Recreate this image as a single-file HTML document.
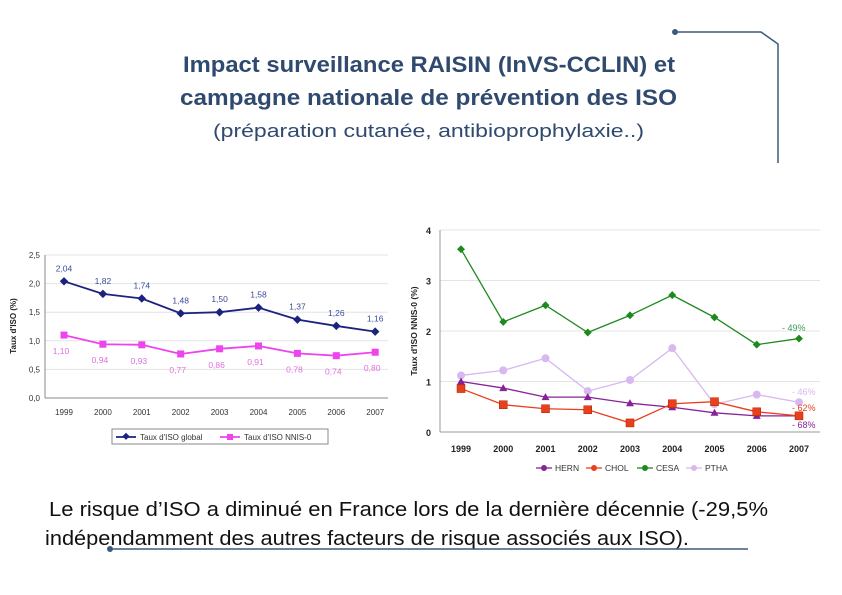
<!DOCTYPE html>
<html><head><meta charset="utf-8"><style>
html,body{margin:0;padding:0;background:#fff}
svg{display:block;font-family:"Liberation Sans",sans-serif}
</style></head><body>
<svg id="s" width="842" height="595" viewBox="0 0 842 595" xmlns="http://www.w3.org/2000/svg">
<g stroke="#3d5a7a" stroke-width="1.5" fill="none">
<path d="M675 32 H761 L778 44 V163"/></g>
<circle cx="675" cy="32" r="3" fill="#3d5a7a"/>
<text x="183" y="72" textLength="492" lengthAdjust="spacingAndGlyphs" font-size="22" font-weight="bold" fill="#2f4a6e">Impact surveillance RAISIN (InVS-CCLIN) et</text>
<text x="180" y="105" textLength="497" lengthAdjust="spacingAndGlyphs" font-size="22" font-weight="bold" fill="#2f4a6e">campagne nationale de prévention des ISO</text>
<text x="213" y="137" textLength="431" lengthAdjust="spacingAndGlyphs" font-size="18" fill="#2f4a6e">(préparation cutanée, antibioprophylaxie..)</text>
<g id="left"></g>
<g id="right"></g>
<text x="49" y="516" textLength="719" lengthAdjust="spacingAndGlyphs" font-size="20" fill="#111">Le risque d’ISO a diminué en France lors de la dernière décennie (-29,5%</text>
<text x="45" y="545" textLength="644" lengthAdjust="spacingAndGlyphs" font-size="20" fill="#111">indépendamment des autres facteurs de risque associés aux ISO).</text>
<line x1="110" y1="549" x2="748" y2="549" stroke="#3d5a7a" stroke-width="1.5"/>
<circle cx="110" cy="549" r="3" fill="#3d5a7a"/>
</svg>
<script>
const years=["1999","2000","2001","2002","2003","2004","2005","2006","2007"];
const globalRate=[2.04,1.82,1.74,1.48,1.50,1.58,1.37,1.26,1.16];
const nnisRate=[1.10,0.94,0.93,0.77,0.86,0.91,0.78,0.74,0.80];
const globalLabels=["2,04","1,82","1,74","1,48","1,50","1,58","1,37","1,26","1,16"];
const nnisLabels=["1,10","0,94","0,93","0,77","0,86","0,91","0,78","0,74","0,80"];
const leftTicks=[0,0.5,1,1.5,2,2.5];
const leftTickLabels=["0,0","0,5","1,0","1,5","2,0","2,5"];
const hern=[1.0,0.87,0.69,0.69,0.57,0.49,0.38,0.32,0.32];
const chol=[0.86,0.54,0.46,0.44,0.18,0.56,0.60,0.40,0.32];
const cesa=[3.62,2.18,2.51,1.97,2.31,2.71,2.27,1.73,1.85];
const ptha=[1.12,1.22,1.46,0.81,1.03,1.66,0.55,0.74,0.59];
const rightTicks=[0,1,2,3,4];
const NS="http://www.w3.org/2000/svg";
function mk(p,tag,a,txt){const e=document.createElementNS(NS,tag);for(const k in a)e.setAttribute(k,a[k]);if(txt!==undefined)e.textContent=txt;p.appendChild(e);return e;}
// LEFT
const L=document.getElementById('left');
const lx=i=>64+i*38.9, ly=v=>398-v*57.2;
leftTicks.forEach((t,i)=>{
 const g=mk(L,'line',{x1:45,x2:388,y1:ly(t),y2:ly(t),stroke:t===0?'#888':'#e4e4e4','stroke-width':1});
 
 
 const tx=mk(L,'text',{x:40,y:ly(t)+3,'font-size':8,'text-anchor':'end',fill:'#333'},leftTickLabels[i]);
 
 
});
mk(L,'line',{x1:45,x2:45,y1:255,y2:398,stroke:'#888'});
years.forEach((y,i)=>{
 const t=mk(L,'text',{x:lx(i),y:415,'font-size':8,'text-anchor':'middle',fill:'#333'},y);
 
 
});
const yt=mk(L,'text',{x:16,y:326,'font-size':8,'font-weight':'bold','text-anchor':'middle',transform:'rotate(-90 16 326)',fill:'#222'},"Taux d'ISO (%)");


function series(P,xs,ys,vals,color,w,name){
 const pl=mk(P,'polyline',{points:vals.map((v,i)=>xs(i)+','+ys(v)).join(' '),fill:'none',stroke:color,'stroke-width':w});
 
 
}
series(L,lx,ly,globalRate,'#1a237e',1.8,'global');
series(L,lx,ly,nnisRate,'#ee44ee',1.8,'nnis');
globalRate.forEach((v,i)=>{
 const m=mk(L,'rect',{x:lx(i)-3,y:ly(v)-3,width:6,height:6,fill:'#1a237e',transform:`rotate(45 ${lx(i)} ${ly(v)})`});
 
 
 const t=mk(L,'text',{x:lx(i),y:ly(v)-10,'font-size':8.5,'text-anchor':'middle',fill:'#3a4a9a'},globalLabels[i]);
 
 
});
nnisRate.forEach((v,i)=>{
 const m=mk(L,'rect',{x:lx(i)-3.5,y:ly(v)-3.5,width:7,height:7,fill:'#ee44ee'});
 
 
 const t=mk(L,'text',{x:lx(i)-3,y:ly(v)+19,'font-size':8.5,'text-anchor':'middle',fill:'#e070e0'},nnisLabels[i]);
 
 
});
const lg=mk(L,'rect',{x:112,y:429,width:216,height:15,fill:'#fff',stroke:'#888'});


mk(L,'line',{x1:116,x2:136,y1:437,y2:437,stroke:'#1a237e','stroke-width':1.8});
mk(L,'rect',{x:123,y:434,width:5,height:5,fill:'#1a237e',transform:'rotate(45 126 437)'});
const le1=mk(L,'text',{x:140,y:440,'font-size':8,fill:'#333'},"Taux d'ISO global");


mk(L,'line',{x1:220,x2:240,y1:437,y2:437,stroke:'#ee44ee','stroke-width':1.8});
mk(L,'rect',{x:227,y:434,width:6,height:6,fill:'#ee44ee'});
const le2=mk(L,'text',{x:244,y:440,'font-size':8,fill:'#333'},"Taux d'ISO NNIS-0");


// RIGHT
const R=document.getElementById('right');
const rx=i=>461+i*42.25, ry=v=>432-v*50.5;
rightTicks.forEach(t=>{
 const g=mk(R,'line',{x1:440,x2:820,y1:ry(t),y2:ry(t),stroke:t===0?'#999':'#e4e4e4'});
 
 
 const tx=mk(R,'text',{x:431,y:ry(t)+4,'font-size':9,'font-weight':'bold','text-anchor':'end',fill:'#222'},String(t));
 
 
});
mk(R,'line',{x1:440,x2:440,y1:230,y2:432,stroke:'#999'});
years.forEach((y,i)=>{
 const t=mk(R,'text',{x:rx(i),y:452,'font-size':9,'font-weight':'bold','text-anchor':'middle',fill:'#222'},y);
 
 
});
const ryt=mk(R,'text',{x:417,y:331,'font-size':8.5,'font-weight':'bold','text-anchor':'middle',transform:'rotate(-90 417 331)',fill:'#222'},"Taux d'ISO NNIS-0 (%)");


series(R,rx,ry,ptha,'#d8b8f0',1.3,'ptha');
series(R,rx,ry,cesa,'#1e8a1e',1.3,'cesa');
series(R,rx,ry,hern,'#882299',1.3,'hern');
series(R,rx,ry,chol,'#e8401c',1.3,'chol');
ptha.forEach((v,i)=>{const m=mk(R,'circle',{cx:rx(i),cy:ry(v),r:4,fill:'#d8b8f0'});});
cesa.forEach((v,i)=>{const m=mk(R,'rect',{x:rx(i)-2.8,y:ry(v)-2.8,width:5.6,height:5.6,fill:'#1e8a1e',transform:`rotate(45 ${rx(i)} ${ry(v)})`});});
hern.forEach((v,i)=>{const m=mk(R,'polygon',{points:`${rx(i)},${ry(v)-4} ${rx(i)-4},${ry(v)+3} ${rx(i)+4},${ry(v)+3}`,fill:'#882299'});});
chol.forEach((v,i)=>{const m=mk(R,'rect',{x:rx(i)-4,y:ry(v)-4,width:8,height:8,fill:'#e8401c',stroke:'#b02000','stroke-width':0.5});});
[["- 49%",782,331,'#3a9a5a'],["- 46%",792,395,'#d8b8f0'],["- 62%",792,411,'#e8401c'],["- 68%",792,428,'#882299']].forEach(a=>{
 const t=mk(R,'text',{x:a[1],y:a[2],'font-size':9,fill:a[3]},a[0]);
 
 
});
const leg=[["HERN",536,'#882299'],["CHOL",586,'#e8401c'],["CESA",637,'#1e8a1e'],["PTHA",686,'#d8b8f0']];
leg.forEach(a=>{
 mk(R,'line',{x1:a[1],x2:a[1]+16,y1:468,y2:468,stroke:a[2],'stroke-width':1.3});
 mk(R,'circle',{cx:a[1]+8,cy:468,r:3,fill:a[2]});
 const t=mk(R,'text',{x:a[1]+19,y:471,'font-size':8.5,fill:'#333'},a[0]);
 
 
});
</script>
</body></html>
